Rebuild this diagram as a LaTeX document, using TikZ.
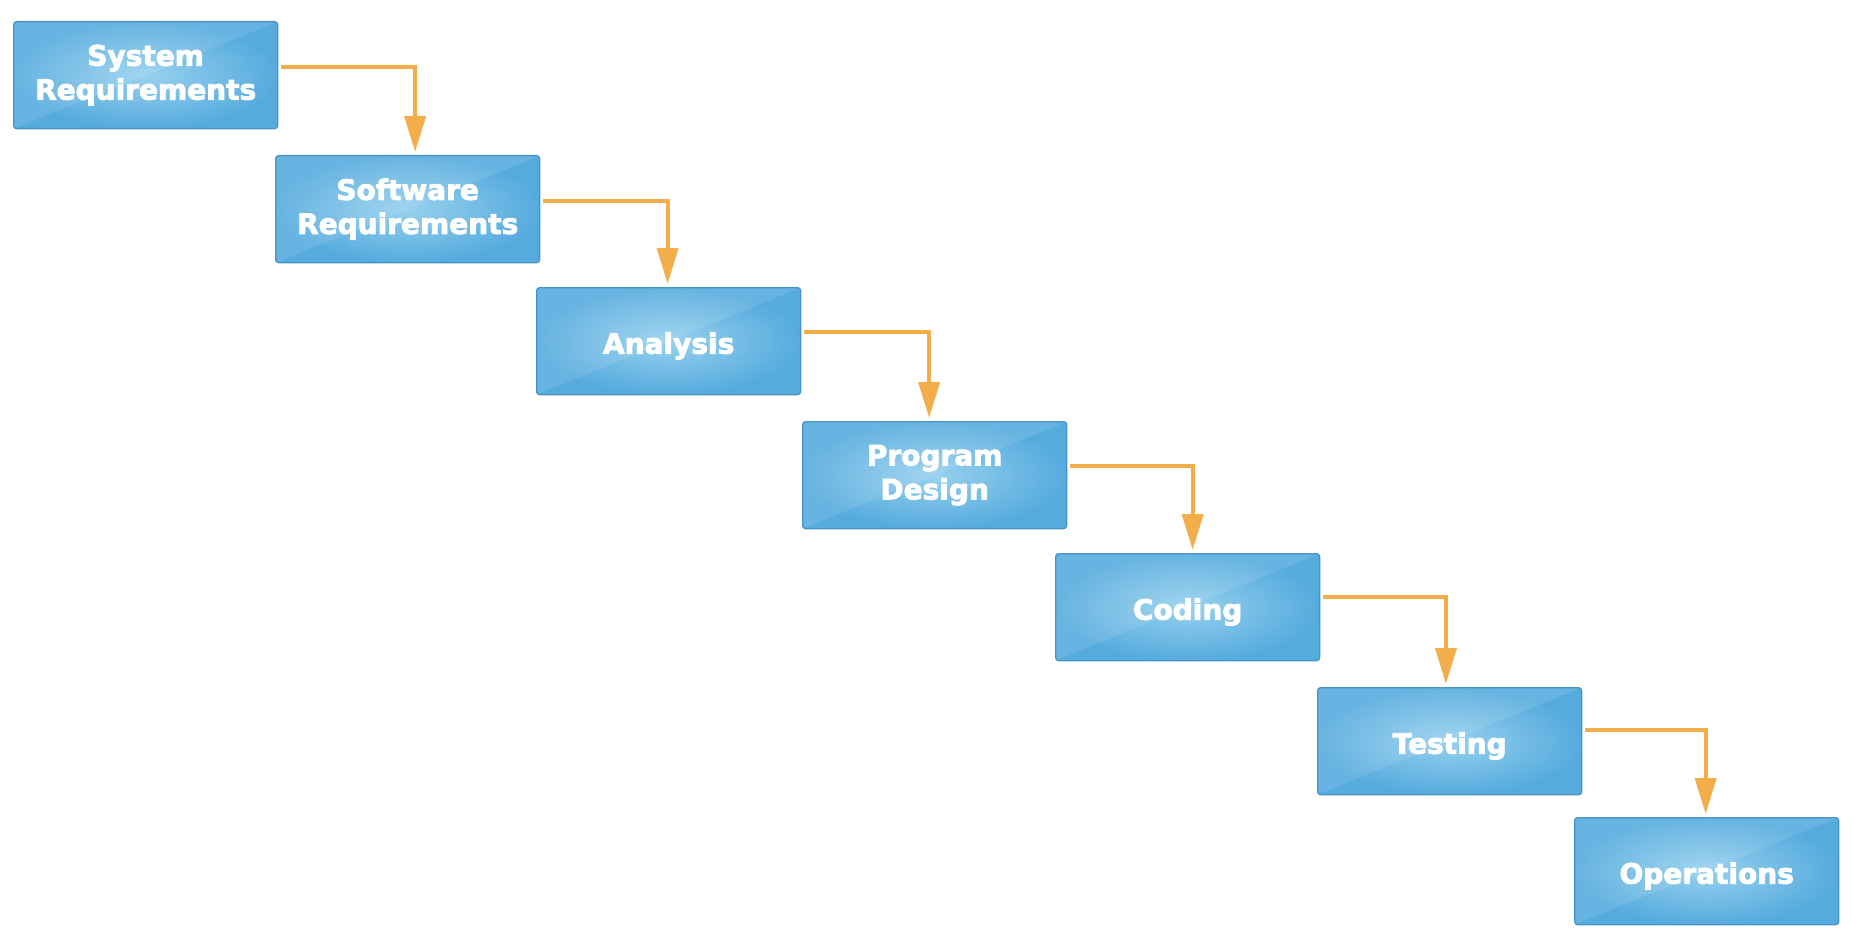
\documentclass[tikz,border=0pt]{standalone}
\usepackage{fontspec}
\setmainfont{DejaVu Sans}[BoldFeatures={FakeBold=3}]
\usetikzlibrary{arrows.meta,positioning}
\definecolor{boxedge}{HTML}{4693C4}
\definecolor{boxout}{HTML}{56ABDE}
\definecolor{boxin}{HTML}{97D1EE}
\definecolor{flowc}{HTML}{F2AE4B}
\tikzset{
  stage/.style={anchor=north west, minimum width=264pt, minimum height=107pt,
    rounded corners=3pt, draw=boxedge, line width=1.3pt,
    inner color=boxin, outer color=boxout,
    text=white, font=\bfseries\fontsize{28}{34}\selectfont, align=center,
    inner sep=0pt,
    path picture={
      \fill[white,opacity=0.10] (path picture bounding box.south west) --
        (path picture bounding box.north east) --
        (path picture bounding box.north west) -- cycle;
    }},
  oneline/.style={text depth=0pt, text height=25pt},
  flow/.style={draw=flowc, line width=4pt, shorten <=3pt, shorten >=3pt,
    -{Triangle[length=36pt,width=21pt]}}
}
\begin{document}
\begin{tikzpicture}[x=1pt,y=-1pt]
\useasboundingbox (0,0) rectangle (1854,936);
\node[stage] (s1) at (13,21)   {System\\Requirements};
\node[stage] (s2) at (275,155) {Software\\Requirements};
\node[stage,oneline] (s3) at (536,287) {Analysis};
\node[stage] (s4) at (802,421) {Program\\Design};
\node[stage,oneline] (s5) at (1055,553) {Coding};
\node[stage,oneline] (s6) at (1317,687) {Testing};
\node[stage,oneline] (s7) at (1574,817) {Operations};
\foreach \a/\b/\dy/\dx in {s1/s2/8/7.5, s2/s3/8.5/-1, s3/s4/9/-5.5, s4/s5/9.5/5, s5/s6/10.5/-3.7, s6/s7/11/-1}{
  \draw[flow] ([yshift=\dy pt]\a.east) -| ([xshift=\dx pt]\b.north);
}
\end{tikzpicture}
\end{document}
